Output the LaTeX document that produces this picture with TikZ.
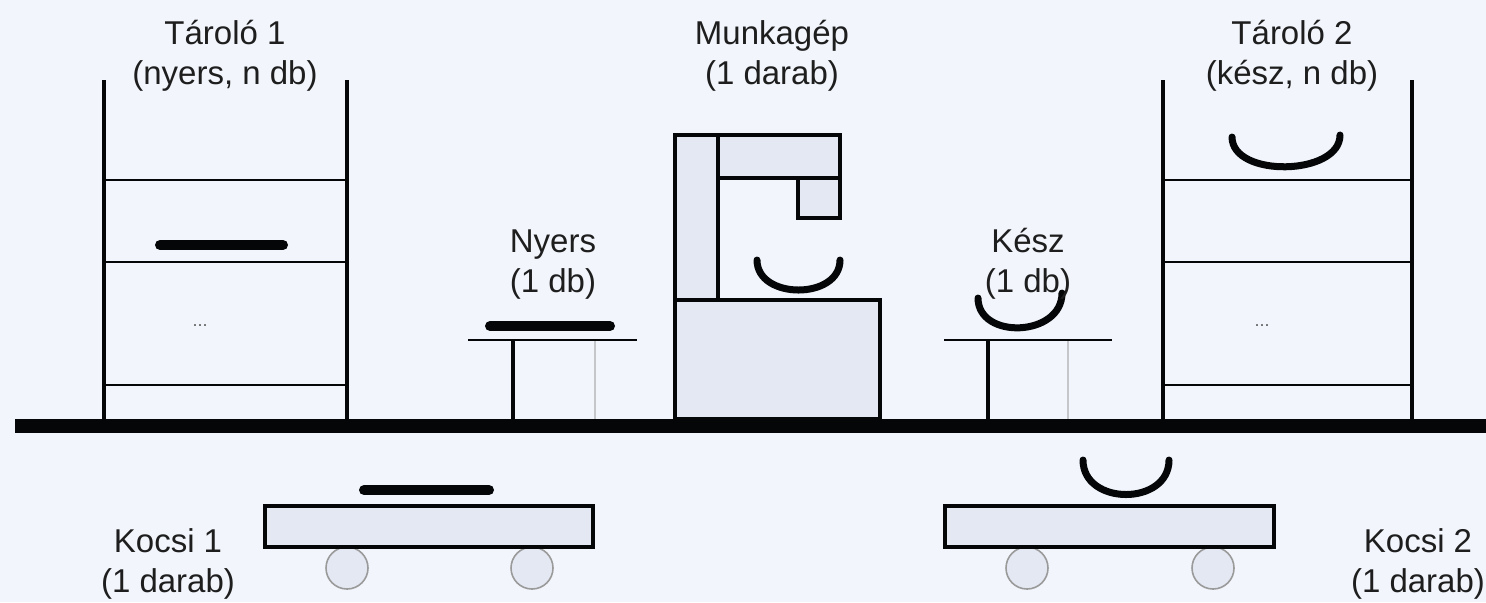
\documentclass[tikz,border=0pt]{standalone}
\usepackage{fontspec}
\setmainfont{Liberation Sans}
\usepackage{xcolor}
\definecolor{cBg}{HTML}{F2F6FC}
\definecolor{cInk}{HTML}{050608}
\definecolor{cFill}{HTML}{E4E8F2}
\definecolor{cWheel}{HTML}{9A9A9A}
\definecolor{cLeg}{HTML}{C4C6CA}
\definecolor{cText}{HTML}{1E1E1E}
\usepackage{tikz}
\usetikzlibrary{positioning}
\tikzset{
  lbl/.style={align=center,font=\fontsize{16.5}{20}\selectfont,
    text=cText,inner sep=0pt,anchor=base},
  dots/.style={font=\fontsize{9}{10}\selectfont,text=cText!70,inner sep=0pt},
  rack/.style={draw=cInk,line width=1.8pt},
  shelf/.style={draw=cInk,line width=1.4pt},
  raw-part/.style={draw=cInk,line width=5pt,line cap=round},
  done-part/.style={draw=cInk,line width=3.5pt,line cap=round},
  machine/.style={draw=cInk,line width=1.7pt,fill=cFill},
  table-top/.style={draw=cInk,line width=1.3pt},
  table-leg/.style={draw=cInk,line width=1.6pt},
  table-leg-back/.style={draw=cLeg,line width=1pt},
  cart/.style={draw=cInk,line width=2pt,fill=cFill},
  wheel/.style={draw=cWheel,line width=0.8pt,fill=cFill},
  floor/.style={draw=cInk,line width=7pt},
}

\begin{document}
\begin{tikzpicture}[x=0.5pt,y=-0.5pt]
  \fill[cBg] (0,0) rectangle (1486,602);
  \useasboundingbox (0,0) rectangle (1486,602);

  % racks (raw / finished)
  \foreach \xa/\xb in {104/347,1163/1412}{
    \draw[rack] (\xa,80) -- (\xa,419) (\xb,80) -- (\xb,419);
    \foreach \y in {180,262,385}
      \draw[shelf] (\xa,\y) -- (\xb,\y);
  }
  \node[dots] (dots1) at (200,326) {...};
  \node[dots] (dots2) at (1262,326) {...};

  % small tables
  \foreach \xa/\xb/\xl/\xg in {468/637/513/595,944/1112/988/1068}{
    \draw[table-leg-back] (\xg,340) -- (\xg,419);
    \draw[table-leg] (\xl,340) -- (\xl,419);
    \draw[table-top] (\xa,340) -- (\xb,340);
  }

  % machine
  \draw[machine] (675,300) rectangle (880,419);
  \draw[machine] (675,135) rectangle (718,300);
  \draw[machine] (718,135) rectangle (840,178);
  \draw[machine] (798,178) rectangle (840,218);

  % floor
  \draw[floor] (15,426) -- (1486,426);

  % carts
  \foreach \xw in {347,532,1027,1213}
    \draw[wheel] (\xw,568) circle[radius=21];
  \draw[cart] (265,506) rectangle (593,547);
  \draw[cart] (945,506) rectangle (1274,547);

  % raw parts
  \draw[raw-part] (160,245) -- (283,245);
  \draw[raw-part] (490,326) -- (610,326);
  \draw[raw-part] (364,490) -- (489,490);

  % finished parts
  \draw[done-part] (757,260) .. controls (757,300) and (840,300) .. (840,260);
  \draw[done-part] (978,298) .. controls (978,340) and (1062,337) .. (1062,293);
  \draw[done-part] (1232,137) .. controls (1232,178) and (1340,176) .. (1340,135);
  \draw[done-part] (1083,460) .. controls (1083,506) and (1169,506) .. (1169,460);

  % labels (anchor = baseline of the lower line)
  \node[lbl] (store1) at (225,84) {Tároló 1\\(nyers, n db)};
  \node[lbl] (mach) at (772,84) {Munkagép\\(1 darab)};
  \node[lbl] (store2) at (1292,84) {Tároló 2\\(kész, n db)};
  \node[lbl] (raw) at (553,292) {Nyers\\(1 db)};
  \node[lbl] (done) at (1028,292) {Kész\\(1 db)};
  \node[lbl] (cart1) at (168,592) {Kocsi 1\\(1 darab)};
  \node[lbl] (cart2) at (1418,592) {Kocsi 2\\(1 darab)};
\end{tikzpicture}
\end{document}
